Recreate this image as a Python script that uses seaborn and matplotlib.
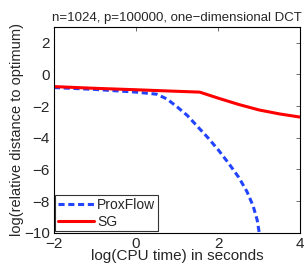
import numpy as np
import pandas as pd
import matplotlib
matplotlib.use("Agg")
import matplotlib.pyplot as plt
import seaborn as sns

# values
prox_t = [-2.0, -1.0, 0.0, 0.5, 0.75, 1.0, 1.25, 1.5, 1.75, 2.0, 2.25, 2.5, 2.7, 2.85, 2.95, 3.0]
prox_v = [-0.83, -0.95, -1.12, -1.25, -1.55, -2.05, -2.6, -3.3, -4.0, -4.76, -5.6, -6.5, -7.4, -8.3, -9.2, -10.0]
sg_t = [-2.0, -1.0, 0.0, 0.8, 1.55, 2.0, 2.5, 3.0, 3.5, 4.0]
sg_v = [-0.77, -0.88, -0.97, -1.05, -1.12, -1.5, -1.9, -2.25, -2.5, -2.7]

df = pd.concat([
    pd.DataFrame({'t': prox_t, 'v': prox_v, 'method': 'ProxFlow'}),
    pd.DataFrame({'t': sg_t, 'v': sg_v, 'method': 'SG'}),
])

sns.set_style("white")
plt.rcParams['font.family'] = ['Liberation Sans', 'DejaVu Sans']
plt.rcParams['font.size'] = 10

fig, ax = plt.subplots(figsize=(3.08, 2.69), dpi=100)
sns.lineplot(data=df, x='t', y='v', hue='method', style='method',
             palette={'ProxFlow': '#2244ff', 'SG': '#ff0000'},
             dashes={'ProxFlow': (2, 1.2), 'SG': ''},
             linewidth=2.2, sort=False, estimator=None, ax=ax)

ax.set_xlim(-2, 4)
ax.set_ylim(-10, 3)
ax.set_xticks([-2, 0, 2, 4])
ax.set_yticks([-10, -8, -6, -4, -2, 0, 2])
ax.set_xticklabels(['\u22122', '0', '2', '4'])
ax.set_yticklabels(['\u221210', '\u22128', '\u22126', '\u22124', '\u22122', '0', '2'])
ax.tick_params(direction='in', length=3, width=0.6, top=True, right=True, labelsize=11,
               color='#555555')
ax.tick_params(axis='x', pad=3)
ax.tick_params(axis='y', pad=3)
for s in ax.spines.values():
    s.set_linewidth(0.8)
    s.set_color('black')

ax.set_xlabel('log(CPU time) in seconds', fontsize=11, labelpad=-1)
ax.set_ylabel('log(relative distance to optimum)', fontsize=10.5, labelpad=0)
ax.set_title('n=1024, p=100000, one\u2212dimensional DCT', fontsize=9.5, pad=4)

leg = ax.legend(loc='lower left', fontsize=10, handlelength=2.6, handletextpad=0.2,
                borderpad=0.2, labelspacing=0.2, borderaxespad=0.1, fancybox=False,
                frameon=True, edgecolor='black')
leg.get_frame().set_linewidth(0.8)
leg.set_title(None)

fig.subplots_adjust(left=0.175, right=0.975, top=0.9, bottom=0.135)
fig.savefig('out.png', dpi=100)
